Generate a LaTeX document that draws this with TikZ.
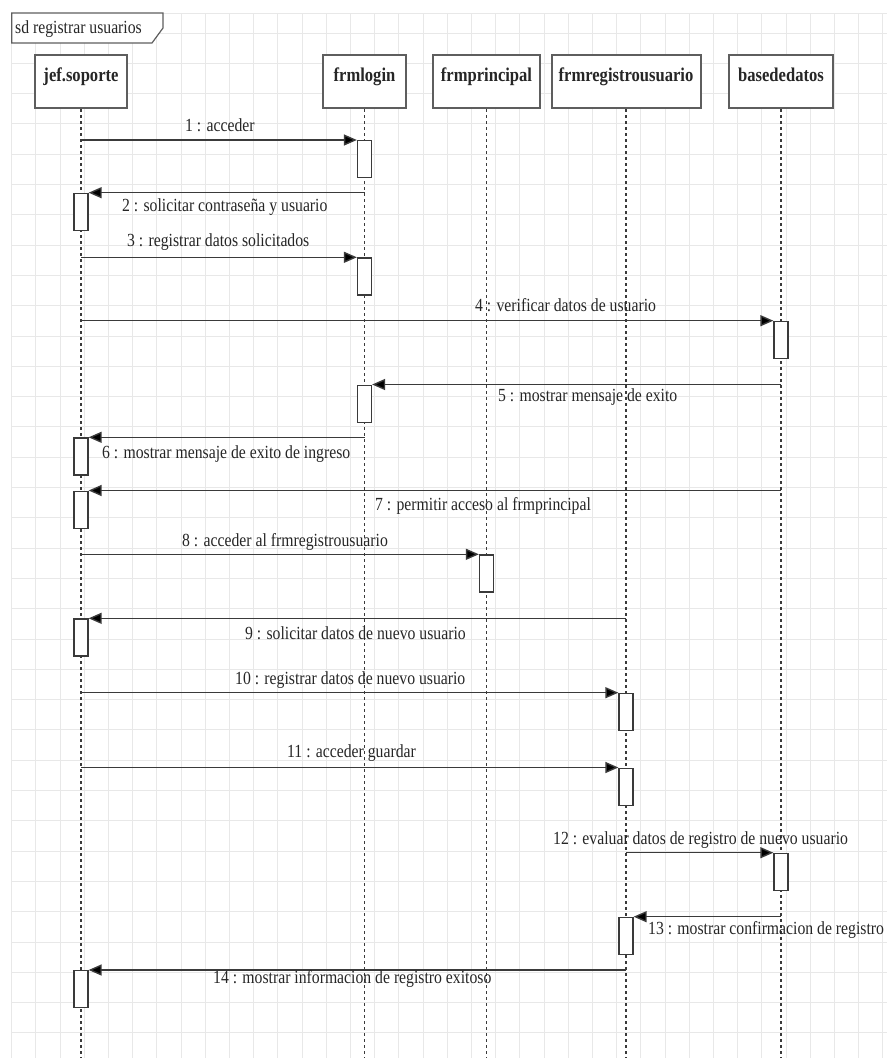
\documentclass[tikz,border=0pt]{standalone}
\usepackage{fontspec}
\setmainfont{Liberation Serif}[FakeStretch=0.85]
\usetikzlibrary{arrows.meta}
\definecolor{gridc}{HTML}{E8E8E8}
\definecolor{inkc}{HTML}{262626}
\definecolor{boxc}{HTML}{5E5E5E}
\definecolor{linec}{HTML}{3A3A3A}
\begin{document}
\begin{tikzpicture}[x=1pt,y=-1pt,
  gridline/.style={draw=gridc,line width=1pt},
  head/.style={draw=boxc,line width=2pt,fill=white,anchor=north,inner xsep=0pt,inner ysep=0pt,
    text height=26pt,text depth=27pt,text=inkc,font=\fontsize{19.5}{22}\selectfont\bfseries},
  lifeline/.style={draw=linec,line width=1.2pt,dash pattern=on 3pt off 3pt},
  act/.style={draw=linec,line width=1.3pt,fill=white,anchor=north,minimum width=14pt,minimum height=37pt,inner sep=0pt},
  msg/.style={draw=linec,line width=1.4pt,-{Triangle[length=13pt,width=11pt,fill=black]}},
  lbl/.style={anchor=west,inner sep=0pt,text=inkc,font=\fontsize{18.5}{21}\selectfont},
  frametab/.style={draw=boxc,line width=1.2pt,fill=white}]
\useasboundingbox (0,0) rectangle (887,1058);
\fill[white] (0,0) rectangle (887,1058);

% background grid
\foreach \k in {0,...,36} \draw[gridline] ({11.7+24.2*\k},13) -- ({11.7+24.2*\k},1058);
\draw[gridline] (11.7,13) -- (887,13);
\foreach \k in {0,...,33} \draw[gridline] (11.7,{33+30.3*\k}) -- (887,{33+30.3*\k});

% interaction frame tab
\draw[frametab] (11.7,13) -- (163,13) -- (163,28) -- (152,43) -- (11.7,43) -- cycle;
\node[lbl] (sd) at (15,29) {sd registrar usuarios};

% participants
\node[head,minimum width=91.7pt] (jef) at (81,54) {jef.soporte};
\node[head,minimum width=83.3pt] (login) at (364.5,54) {frmlogin};
\node[head,minimum width=107.3pt] (princ) at (486.5,54) {frmprincipal};
\node[head,minimum width=149pt] (reg) at (626,54) {frmregistrousuario};
\node[head,minimum width=104.7pt] (bd) at (781,54) {basededatos};

% lifelines
\foreach \p in {jef,login,princ,reg,bd} {
  \coordinate (\p end) at (\p.south |- 0,1058);
  \draw[lifeline] (\p.south) -- (\p end);
}

% activations
\node[act] (a1) at (login.south |- 0,140) {};
\node[act] (a2) at (jef.south |- 0,192.7) {};
\node[act] (a3) at (login.south |- 0,257.3) {};
\node[act] (a4) at (bd.south |- 0,320.7) {};
\node[act] (a5) at (login.south |- 0,384.5) {};
\node[act] (a6) at (jef.south |- 0,437.3) {};
\node[act] (a7) at (jef.south |- 0,490.5) {};
\node[act] (a8) at (princ.south |- 0,554.3) {};
\node[act] (a9) at (jef.south |- 0,618.3) {};
\node[act] (a10) at (reg.south |- 0,692.7) {};
\node[act] (a11) at (reg.south |- 0,767.5) {};
\node[act] (a12) at (bd.south |- 0,852.7) {};
\node[act] (a13) at (reg.south |- 0,916.7) {};
\node[act] (a14) at (jef.south |- 0,970) {};

% messages
\draw[msg] (a1.north west -| jef) -- (a1.north west);
\draw[msg] (a2.north east -| login) -- (a2.north east);
\draw[msg] (a3.north west -| jef) -- (a3.north west);
\draw[msg] (a4.north west -| jef) -- (a4.north west);
\draw[msg] (a5.north east -| bd) -- (a5.north east);
\draw[msg] (a6.north east -| login) -- (a6.north east);
\draw[msg] (a7.north east -| bd) -- (a7.north east);
\draw[msg] (a8.north west -| jef) -- (a8.north west);
\draw[msg] (a9.north east -| reg) -- (a9.north east);
\draw[msg] (a10.north west -| jef) -- (a10.north west);
\draw[msg] (a11.north west -| jef) -- (a11.north west);
\draw[msg] (a12.north west -| reg) -- (a12.north west);
\draw[msg] (a13.north east -| bd) -- (a13.north east);
\draw[msg] (a14.north east -| reg) -- (a14.north east);

% message labels
\node[lbl] (m1) at (185,125) {1 : acceder};
\node[lbl] (m2) at (122,207) {2 : solicitar contraseña y usuario};
\node[lbl] (m3) at (127,242) {3 : registrar datos solicitados};
\node[lbl] (m4) at (475,305) {4 : verificar datos de usuario};
\node[lbl] (m5) at (498,397) {5 : mostrar mensaje de exito};
\node[lbl] (m6) at (102,454) {6 : mostrar mensaje de exito de ingreso};
\node[lbl] (m7) at (375,506) {7 : permitir acceso al frmprincipal};
\node[lbl] (m8) at (182,542) {8 : acceder al frmregistrousuario};
\node[lbl] (m9) at (245,633) {9 : solicitar datos de nuevo usuario};
\node[lbl] (m10) at (235,680) {10 : registrar datos de nuevo usuario};
\node[lbl] (m11) at (287,753) {11 : acceder guardar};
\node[lbl] (m12) at (553,840) {12 : evaluar datos de registro de nuevo usuario};
\node[lbl] (m13) at (648,930) {13 : mostrar confirmacion de registro};
\node[lbl] (m14) at (213,979) {14 : mostrar informacion de registro exitoso};
\end{tikzpicture}
\end{document}
